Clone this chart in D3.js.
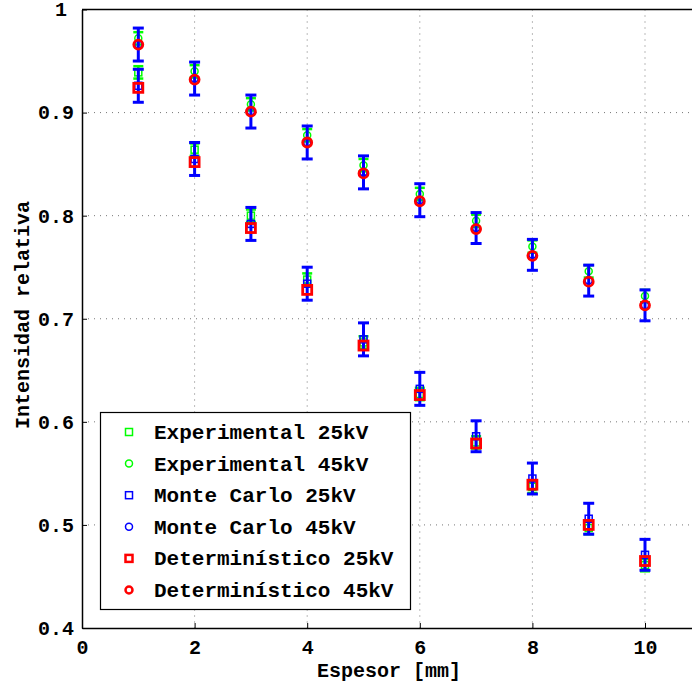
<!DOCTYPE html>
<html>
<head>
<meta charset="utf-8">
<script src="https://cdn.jsdelivr.net/npm/d3@7"></script>
<style>
  body { margin: 0; background: #fff; }
  text { font-family: "Liberation Mono", "Courier New", monospace; font-weight: bold; }
</style>
</head>
<body>
<div id="chart"></div>
<script>
// data
var espesor = [1, 2, 3, 4, 5, 6, 7, 8, 9, 10];
var exp25 = [0.939, 0.864, 0.800, 0.738, 0.677, 0.627, 0.580, 0.537, 0.497, 0.461];
var exp45 = [0.972, 0.940, 0.908, 0.878, 0.849, 0.821, 0.795, 0.770, 0.746, 0.722];
var expErr = [0.006, 0.006, 0.006, 0.006, 0.006, 0.006, 0.006, 0.006, 0.006, 0.006];
var mc25 = [0.926, 0.855, 0.792, 0.734, 0.680, 0.632, 0.586, 0.545, 0.506, 0.471];
var mc45 = [0.966, 0.933, 0.901, 0.871, 0.842, 0.815, 0.788, 0.762, 0.737, 0.713];
var mcErr = [0.016, 0.016, 0.016, 0.016, 0.016, 0.016, 0.015, 0.015, 0.015, 0.015];
var det25 = [0.924, 0.852, 0.788, 0.728, 0.674, 0.626, 0.579, 0.539, 0.500, 0.465];
var det45 = [0.966, 0.932, 0.901, 0.871, 0.841, 0.814, 0.787, 0.761, 0.736, 0.713];
var xTicks = [0, 2, 4, 6, 8, 10];
var yTicks = [0.4, 0.5, 0.6, 0.7, 0.8, 0.9, 1];
var legendLabels = ["Experimental 25kV", "Experimental 45kV", "Monte Carlo 25kV",
                    "Monte Carlo 45kV", "Determinístico 25kV", "Determinístico 45kV"];

var W = 692, H = 682;
var plotLeft = 82, plotTop = 9.5, plotBottom = 628;

var svg = d3.select("#chart").append("svg")
    .attr("width", W)
    .attr("height", H);

var x = d3.scaleLinear().domain([0, 11]).range([plotLeft, plotLeft + 11 * 56.3]);
var y = d3.scaleLinear().domain([0.4, 1]).range([plotBottom, plotTop]);

// grid
svg.append("g").selectAll("line")
  .data(xTicks.filter(function(d) { return d > 0; }))
  .enter().append("line")
    .attr("x1", function(d) { return x(d); })
    .attr("x2", function(d) { return x(d); })
    .attr("y1", plotTop).attr("y2", plotBottom)
    .attr("stroke", "#777").attr("stroke-width", 1)
    .attr("stroke-dasharray", "1,5");
svg.append("g").selectAll("line")
  .data(yTicks.filter(function(d) { return d > 0.4 && d < 1; }))
  .enter().append("line")
    .attr("x1", plotLeft).attr("x2", W)
    .attr("y1", function(d) { return y(d); })
    .attr("y2", function(d) { return y(d); })
    .attr("stroke", "#777").attr("stroke-width", 1)
    .attr("stroke-dasharray", "1,5");

// axes
var xAxis = svg.append("g")
  .attr("transform", "translate(0," + plotBottom + ")")
  .call(d3.axisBottom(x).tickValues(xTicks).tickSizeInner(-5).tickSizeOuter(0).tickPadding(12));
var yAxis = svg.append("g")
  .attr("transform", "translate(" + plotLeft + ",0)")
  .call(d3.axisLeft(y).tickValues(yTicks).tickFormat(function(d) { return d === 1 ? "1" : d3.format(".1f")(d); })
        .tickSizeInner(-5).tickSizeOuter(0).tickPadding(8));
[xAxis, yAxis].forEach(function(a) {
  a.select(".domain").attr("stroke", "#000").attr("stroke-width", 1.5);
  a.selectAll(".tick line").attr("stroke", "#000");
  a.selectAll("text").style("font-size", "20px").attr("fill", "#000")
    .style("font-family", "'Liberation Mono', monospace").style("font-weight", "bold");
});
// the "1" label sits a bit left in the original
yAxis.selectAll(".tick text").filter(function(d) { return d === 1; }).attr("x", -15);
// top border
svg.append("line")
  .attr("x1", plotLeft).attr("x2", W).attr("y1", plotTop).attr("y2", plotTop)
  .attr("stroke", "#000").attr("stroke-width", 1.5);

// axis labels
svg.append("text")
  .attr("x", 389).attr("y", 677)
  .attr("text-anchor", "middle")
  .style("font-size", "20px")
  .text("Espesor [mm]");
svg.append("text")
  .attr("transform", "translate(29,315) rotate(-90)")
  .attr("text-anchor", "middle")
  .style("font-size", "20px")
  .text("Intensidad relativa");

// error bars
function errorBars(vals, errs, color, lw, capW) {
  var g = svg.append("g");
  var d = espesor.map(function(e, i) { return {x: e, v: vals[i], e: errs[i]}; });
  g.selectAll("line.v").data(d).enter().append("line")
    .attr("x1", function(p) { return x(p.x); })
    .attr("x2", function(p) { return x(p.x); })
    .attr("y1", function(p) { return y(p.v - p.e); })
    .attr("y2", function(p) { return y(p.v + p.e); })
    .attr("stroke", color).attr("stroke-width", lw);
  [-1, 1].forEach(function(s) {
    g.selectAll("line.c" + (s + 1)).data(d).enter().append("line")
      .attr("x1", function(p) { return x(p.x) - capW / 2; })
      .attr("x2", function(p) { return x(p.x) + capW / 2; })
      .attr("y1", function(p) { return y(p.v + s * p.e); })
      .attr("y2", function(p) { return y(p.v + s * p.e); })
      .attr("stroke", color).attr("stroke-width", lw);
  });
}

function markers(vals, shape, color, size, lw) {
  var g = svg.append("g");
  var d = espesor.map(function(e, i) { return {x: e, v: vals[i]}; });
  if (shape === "square") {
    g.selectAll("rect").data(d).enter().append("rect")
      .attr("x", function(p) { return x(p.x) - size / 2; })
      .attr("y", function(p) { return y(p.v) - size / 2; })
      .attr("width", size).attr("height", size)
      .attr("fill", "none").attr("stroke", color).attr("stroke-width", lw);
  } else {
    g.selectAll("circle").data(d).enter().append("circle")
      .attr("cx", function(p) { return x(p.x); })
      .attr("cy", function(p) { return y(p.v); })
      .attr("r", size / 2)
      .attr("fill", "none").attr("stroke", color).attr("stroke-width", lw);
  }
}

// experimental (green)
errorBars(exp25, expErr, "#00ff00", 2.5, 10);
errorBars(exp45, expErr, "#00ff00", 2.5, 10);
markers(exp25, "square", "#00ff00", 7, 1.5);
markers(exp45, "circle", "#00ff00", 7, 1.5);
// Monte Carlo (blue)
errorBars(mc25, mcErr, "#0000ff", 3, 11);
errorBars(mc45, mcErr, "#0000ff", 3, 11);
markers(mc25, "square", "#0000ff", 7, 1.5);
markers(mc45, "circle", "#0000ff", 7, 1.5);
// deterministic (red)
markers(det25, "square", "#ff0000", 9, 2.8);
markers(det45, "circle", "#ff0000", 9, 2.8);

// legend
var lg = svg.append("g");
lg.append("rect")
  .attr("x", 100.5).attr("y", 412.5).attr("width", 310).attr("height", 197)
  .attr("fill", "#fff").attr("stroke", "#000").attr("stroke-width", 1.2);
var legendStyle = [
  {shape: "square", color: "#00ff00", size: 7, lw: 1.5},
  {shape: "circle", color: "#00ff00", size: 7, lw: 1.5},
  {shape: "square", color: "#0000ff", size: 7, lw: 1.5},
  {shape: "circle", color: "#0000ff", size: 7, lw: 1.5},
  {shape: "square", color: "#ff0000", size: 7, lw: 2.5},
  {shape: "circle", color: "#ff0000", size: 7, lw: 2.5}
];
var ly = d3.scalePoint().domain(legendLabels).range([432, 590]);
legendLabels.forEach(function(lab, i) {
  var s = legendStyle[i], cy = ly(lab);
  if (s.shape === "square") {
    lg.append("rect").attr("x", 129 - s.size / 2).attr("y", cy - s.size / 2)
      .attr("width", s.size).attr("height", s.size)
      .attr("fill", "none").attr("stroke", s.color).attr("stroke-width", s.lw);
  } else {
    lg.append("circle").attr("cx", 129).attr("cy", cy).attr("r", s.size / 2)
      .attr("fill", "none").attr("stroke", s.color).attr("stroke-width", s.lw);
  }
  lg.append("text").attr("x", 154).attr("y", cy + 7)
    .style("font-size", "21px")
    .text(lab);
});
</script>
</body>
</html>
